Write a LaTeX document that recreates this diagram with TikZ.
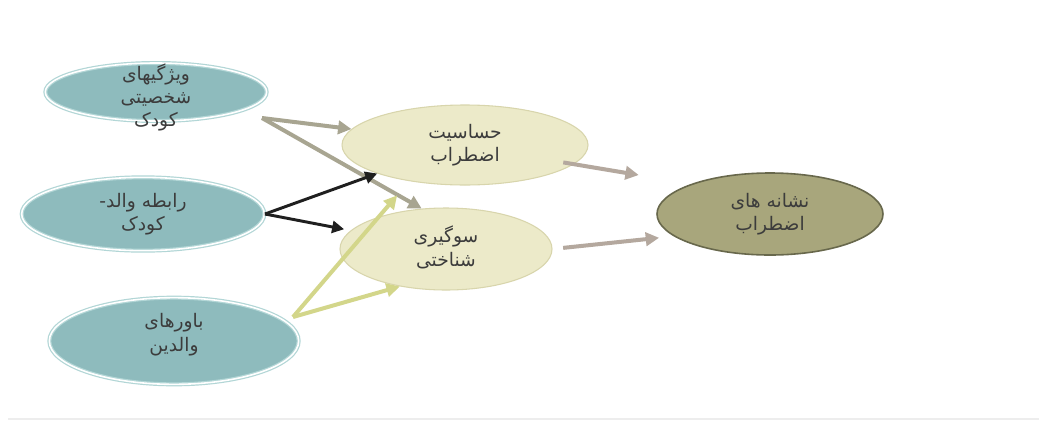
\documentclass[tikz,border=0pt]{standalone}
\usepackage{fontspec}
\usetikzlibrary{shapes.geometric,arrows.meta}
\newfontfamily\arabicfont[Script=Arabic]{DejaVu Sans}
\TeXXeTstate=1

\definecolor{tealfill}{RGB}{142,187,189}
\definecolor{tealring}{RGB}{178,214,214}
\definecolor{creamfill}{RGB}{236,234,201}
\definecolor{creamline}{RGB}{216,213,172}
\definecolor{olivefill}{RGB}{168,166,124}
\definecolor{oliveline}{RGB}{104,104,76}
\definecolor{grayarr}{RGB}{168,165,145}
\definecolor{taupearr}{RGB}{180,168,158}
\definecolor{yellowarr}{RGB}{211,214,138}
\definecolor{inktext}{RGB}{60,60,60}

\newcommand{\fa}[1]{\beginR #1\endR}
\newcommand{\bubbletext}[2][-4pt]{\smash{\raisebox{#1}{\begin{tabular}{@{}c@{}}#2\end{tabular}}}}

\begin{document}
\begin{tikzpicture}[x=0.75pt,y=0.75pt,yscale=-1,xscale=1,
  bubble/.style={ellipse, inner sep=0pt, text=inktext, font=\arabicfont\fontsize{14}{17.5}\selectfont},
  teal bubble/.style={bubble, fill=tealfill, draw=tealring, line width=0.9pt, double=white, double distance=1.2pt},
  cream bubble/.style={bubble, fill=creamfill, draw=creamline, line width=0.8pt},
  olive bubble/.style={bubble, fill=olivefill, draw=oliveline, line width=1.2pt},
  gray arrow/.style={draw=grayarr, line width=3pt, -{Triangle[length=10pt,width=10pt]}},
  taupe arrow/.style={draw=taupearr, line width=3pt, -{Triangle[length=10pt,width=10pt]}},
  black arrow/.style={draw=black!88, line width=2.2pt, -{Triangle[length=9pt,width=9pt]}},
  yellow arrow/.style={draw=yellowarr, line width=3pt, -{Triangle[length=10pt,width=10pt]}}
]
\useasboundingbox (0,0) rectangle (1039,422);
\fill[white] (0,0) rectangle (1039,422);
\draw[black!7, line width=1pt] (8,419) -- (1039,419);

% Causes
\node[teal bubble, minimum width=166pt, minimum height=43.5pt] (traits) at (156,92)
  {\bubbletext[-8.5pt]{\fa{ویژگیهای}\\ \fa{شخصیتی}\\ \fa{کودک}}};
\node[teal bubble, minimum width=182pt, minimum height=55pt] (bond) at (143,214)
  {\bubbletext{\fa{رابطه والد-}\\ \fa{کودک}}};
\node[teal bubble, minimum width=187pt, minimum height=65pt] (beliefs) at (174,341)
  {\bubbletext[1pt]{\fa{باورهای}\\ \fa{والدین}}};

% Mediators
\node[cream bubble, minimum width=184.5pt, minimum height=60pt] (sensitivity) at (465,145)
  {\bubbletext{\fa{حساسیت}\\ \fa{اضطراب}}};
\node[cream bubble, minimum width=159pt, minimum height=61.5pt] (bias) at (446,249)
  {\bubbletext{\fa{سوگیری}\\ \fa{شناختی}}};

% Outcome
\node[olive bubble, minimum width=169.5pt, minimum height=61.5pt] (symptoms) at (770,214)
  {\bubbletext{\fa{نشانه های}\\ \fa{اضطراب}}};

\coordinate (traitsout) at (262,118);
\coordinate (beliefsout) at (293,317);

% Arrows
\draw[gray arrow] (traitsout) -- (sensitivity.172);
\draw[gray arrow] (traitsout) -- (bias.121);
\draw[black arrow] (bond.east) -- (sensitivity.198);
\draw[black arrow, shorten >=5pt] (bond.east) -- (bias.169);
\draw[yellow arrow, shorten >=14pt] (beliefsout) -- (sensitivity.213);
\draw[yellow arrow] (beliefsout) -- (bias.219);
\draw[taupe arrow, shorten <=-8pt, shorten >=40pt] (sensitivity.-10) -- (symptoms.159);
\draw[taupe arrow, shorten <=8pt, shorten >=11pt] (bias.east) -- (symptoms.193);

\end{tikzpicture}
\end{document}
